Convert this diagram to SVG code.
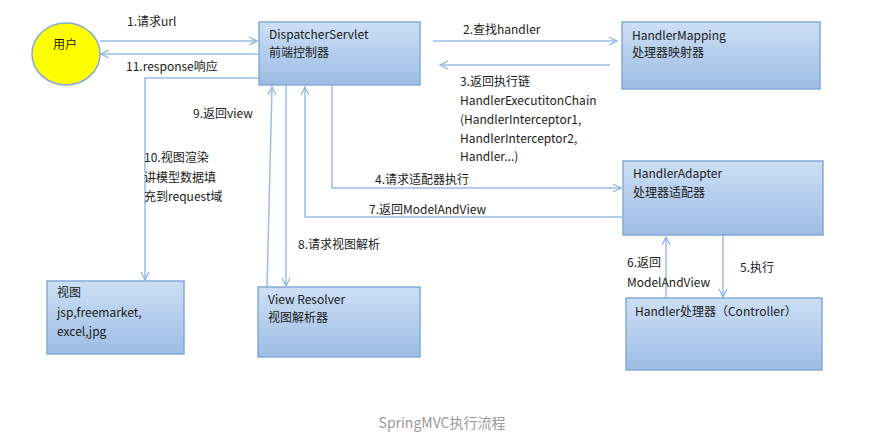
<svg xmlns="http://www.w3.org/2000/svg" width="873" height="443" viewBox="0 0 873 443">
<defs>
<linearGradient id="g" x1="0" y1="0" x2="0" y2="1">
<stop offset="0" stop-color="#cddff5"/>
<stop offset="1" stop-color="#9dbce4"/>
</linearGradient>
<marker id="a" viewBox="0 0 10 10" refX="9" refY="5" markerWidth="10" markerHeight="10" markerUnits="userSpaceOnUse" orient="auto">
<path d="M1,1 L9,5 L1,9" fill="none" stroke="#8fb2de" stroke-width="1.2"/>
</marker>
<style>
.box{fill:url(#g);stroke:#86a9d6;stroke-width:1.5}
.t{font-family:"Noto Sans CJK SC","Noto Sans",sans-serif;font-size:12px;fill:#1a1a1a}
.c{fill:none;stroke:#9cbde6;stroke-width:1.5;marker-end:url(#a)}
.l{fill:none;stroke:#9cbde6;stroke-width:1.5}
</style>
</defs>
<rect width="873" height="443" fill="#fff"/>
<g id="connectors">
<path class="c" d="M100,41 L257,41"/>
<path class="c" d="M259,54 L101,54"/>
<path class="c" d="M259,78 L145,78 L145,280"/>
<path class="c" d="M267,287 L272,87"/>
<path class="c" d="M286,86 L286,286"/>
<path class="c" d="M622,217 L305,217 L305,87"/>
<path class="c" d="M332,86 L332,188 L621,188"/>
<path class="c" d="M433,41 L617,41"/>
<path class="c" d="M610,65 L440,65"/>
<path class="c" d="M723,235 L723,297"/>
<path class="c" d="M666,298 L666,237"/>
</g>
<g id="labels">
<text class="t" x="127" y="26">1.请求url</text>
<text class="t" x="126" y="71">11.response响应</text>
<text class="t" x="463" y="34">2.查找handler</text>
<text class="t" x="460" y="86">3.返回执行链</text>
<text class="t" x="460" y="105">HandlerExecutitonChain</text>
<text class="t" x="460" y="124">(HandlerInterceptor1,</text>
<text class="t" x="460" y="143">HandlerInterceptor2,</text>
<text class="t" x="460" y="161">Handler...)</text>
<text class="t" x="193" y="118">9.返回view</text>
<text class="t" x="144" y="162">10.视图渲染</text>
<text class="t" x="144" y="182">讲模型数据填</text>
<text class="t" x="144" y="201">充到request域</text>
<text class="t" x="375" y="184">4.请求适配器执行</text>
<text class="t" x="369" y="214">7.返回ModelAndView</text>
<text class="t" x="298" y="249">8.请求视图解析</text>
<text class="t" x="627" y="267">6.返回</text>
<text class="t" x="627" y="287">ModelAndView</text>
<text class="t" x="740" y="272">5.执行</text>
</g>
<g id="user">
<ellipse cx="66" cy="54" rx="34" ry="31" fill="#ffff00" stroke="#86a9d6" stroke-width="1.5"/>
<text class="t" x="65" y="49" text-anchor="middle">用户</text>
</g>
<g id="dispatcher">
<rect class="box" x="259" y="22" width="161" height="63"/>
<text class="t" x="269" y="39">DispatcherServlet</text>
<text class="t" x="269" y="57">前端控制器</text>
</g>
<g id="mapping">
<rect class="box" x="622" y="22" width="198" height="67"/>
<text class="t" x="632" y="40">HandlerMapping</text>
<text class="t" x="632" y="57">处理器映射器</text>
</g>
<g id="adapter">
<rect class="box" x="623" y="161" width="200" height="74"/>
<text class="t" x="633" y="178">HandlerAdapter</text>
<text class="t" x="633" y="197">处理器适配器</text>
</g>
<g id="handler">
<rect class="box" x="626" y="298" width="196" height="72"/>
<text class="t" x="635" y="316">Handler处理器（Controller）</text>
</g>
<g id="view">
<rect class="box" x="47" y="281" width="137" height="73"/>
<text class="t" x="57" y="297">视图</text>
<text class="t" x="57" y="317">jsp,freemarket,</text>
<text class="t" x="57" y="336">excel,jpg</text>
</g>
<g id="resolver">
<rect class="box" x="258" y="287" width="162" height="70"/>
<text class="t" x="268" y="304">View Resolver</text>
<text class="t" x="268" y="322">视图解析器</text>
</g>
<text x="442" y="428" text-anchor="middle" font-family="'Noto Sans CJK SC','Noto Sans',sans-serif" font-size="14" fill="#999">SpringMVC执行流程</text>
</svg>
